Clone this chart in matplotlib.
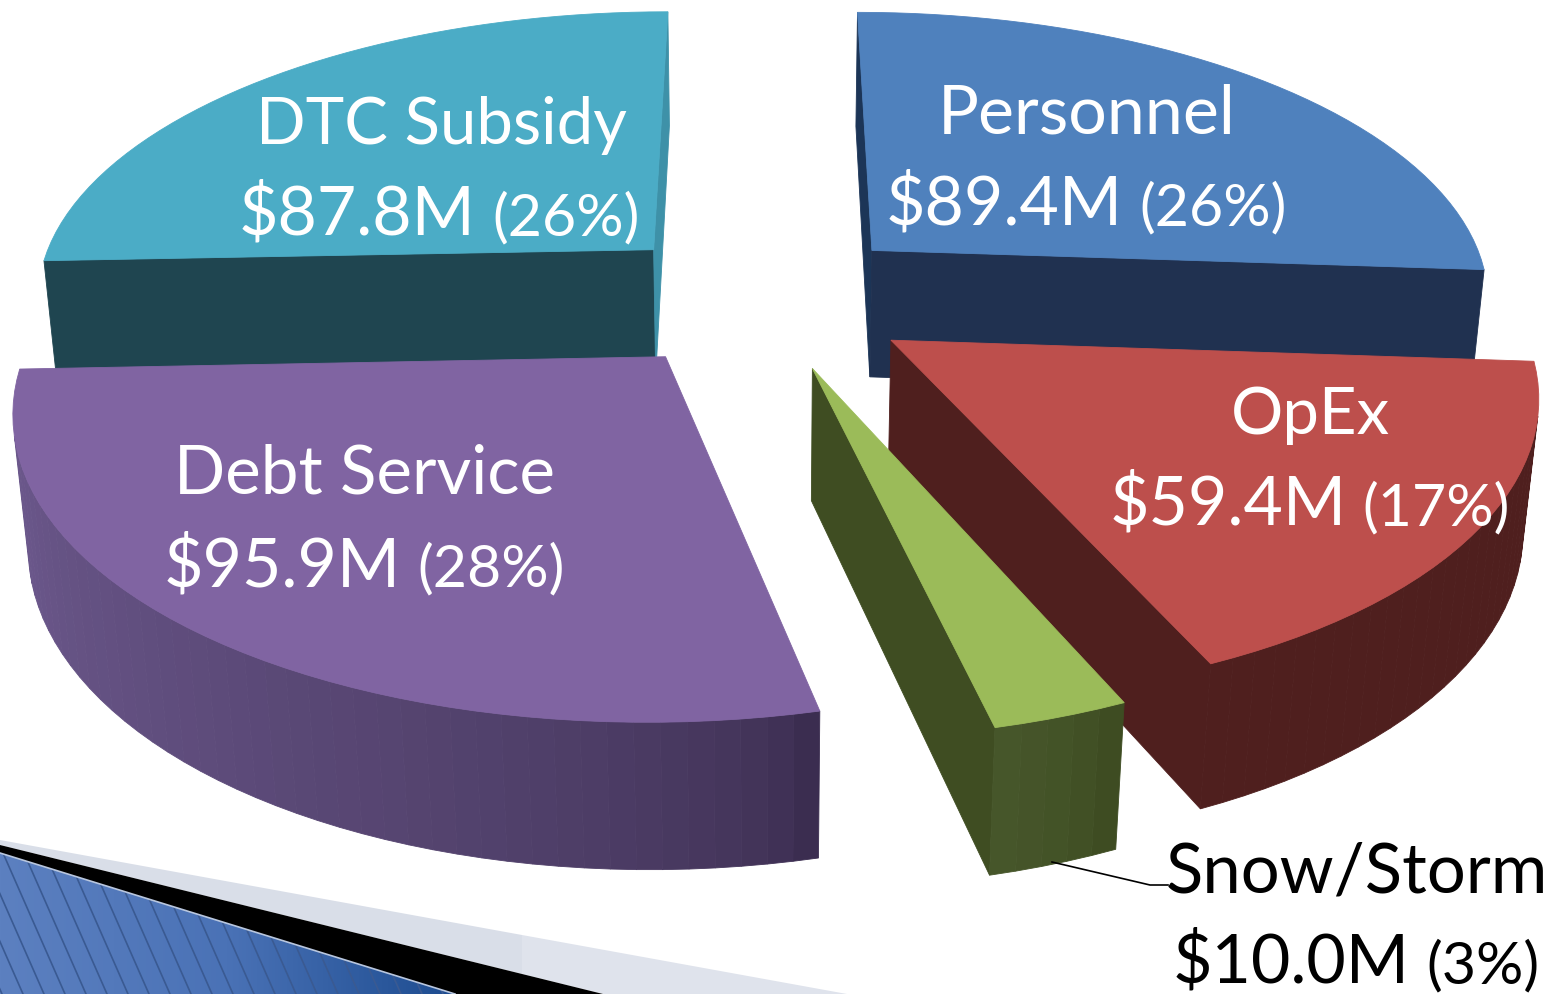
import numpy as np
import matplotlib
matplotlib.use("Agg")
import matplotlib.pyplot as plt
from matplotlib.patches import Polygon
from matplotlib.colors import to_rgb, LinearSegmentedColormap

# ---- data ----
categories = ["Personnel", "OpEx", "Snow/Storm", "Debt Service", "DTC Subsidy"]
values = [89.4, 59.4, 10.0, 95.9, 87.8]
value_labels = ["$89.4M", "$59.4M", "$10.0M", "$95.9M", "$87.8M"]
pct_labels = ["(26%)", "(17%)", "(3%)", "(28%)", "(26%)"]

# ---- style ----
top_colors = ["#4F81BD", "#BD4F4C", "#9BBB59", "#8064A2", "#4BACC6"]
start_wall_colors = ["#1C3557", "#4F1F1E", "#3F4D22", "#3B2D50", "#1F4550"]
end_wall_colors = ["#203150", "#4F1F1E", "#3F4D22", "#3B2D50", "#3E91A8"]
outer_from = ["#203150", "#4F1F1E", "#3E4C22", "#3B2D50", "#1F4550"]
outer_to = ["#203150", "#4F1F1E", "#46562A", "#6F5B90", "#1F4550"]
draw_order = [4, 0, 1, 2, 3]
label_pos = {  # name x, name y, value x, value y, pct x
    0: (938, 134, 886, 225, 1139),
    1: (1231, 434, 1110, 525, 1362),
    2: (1166, 892, 1173, 983, 1426),
    3: (174, 494, 164, 586, 417),
    4: (256, 144, 239, 235, 492),
}
label_colors = ["white", "white", "black", "white", "white"]
name_sizes = [49, 47, 49.5, 48.5, 47]
VALUE_SIZE, PCT_SIZE = 49, 42.5

# perspective camera (pixels)
CX, HY, S, K, D, M, N = 762.0, -1564.0, 622.0, 0.155, 1862.0, 0.0197, 168.0
EXPLODE = 0.248


def project(x, y, z):
    w = 1 + K * y + M * z
    return np.column_stack([CX + S * x / w, HY + (D + N * z) / w])


plt.rcParams["font.family"] = ["Lato", "DejaVu Sans"]
fig = plt.figure(figsize=(15.53, 9.94), dpi=100, facecolor="white")
ax = fig.add_axes([0, 0, 1, 1])
ax.set_xlim(0, 1553)
ax.set_ylim(994, 0)
ax.axis("off")

# ---- slide decoration, lower left ----
blue = [(0, 853), (455, 994), (0, 994)]
grad_x = np.linspace(0, 1, 200)[None, :]
cmap = LinearSegmentedColormap.from_list("b", ["#5C80C0", "#4A72B6", "#1D4C90"])
im = ax.imshow(grad_x, extent=(0, 455, 994, 853), cmap=cmap, aspect="auto", zorder=1)
clip = Polygon(blue, closed=True, transform=ax.transData, fc="none", ec="none")
ax.add_patch(clip)
im.set_clip_path(clip)
for x0 in np.arange(-60, 455, 21):
    ln, = ax.plot([x0, x0 + 62], [853, 994], color="#3A5A92", lw=1.2, zorder=2)
    ln.set_clip_path(clip)
ax.add_patch(Polygon([(0, 840), (522, 935), (522, 974), (0, 845)], fc="#D9DEE8", ec="none", zorder=1))
ax.add_patch(Polygon([(522, 935), (847, 994), (603, 994), (522, 974)], fc="#DFE3EC", ec="none", zorder=1))
ax.add_patch(Polygon([(0, 845), (603, 994), (455, 994), (0, 853)], fc="black", ec="none", zorder=2))
ax.plot([0, 455], [853, 994], color="#B8C6DE", lw=1.2, zorder=3)
ax.set_xlim(0, 1553)
ax.set_ylim(994, 0)


# ---- exploded perspective pie ----
def blend(c0, c1, t):
    a, b = np.array(to_rgb(c0)), np.array(to_rgb(c1))
    return tuple(a + (b - a) * t ** 0.6)


fractions = np.array(values) / np.sum(values)
edges = np.concatenate([[0], np.cumsum(fractions)]) * 2 * np.pi
zo = 5


def signed_area(p):
    x, y = p[:, 0], p[:, 1]
    return 0.5 * np.sum(x * np.roll(y, -1) - np.roll(x, -1) * y)


def face(p, color):
    global zo
    ax.add_patch(Polygon(p, closed=True, fc=color, ec=color, lw=0.6, zorder=zo))
    zo += 1


for i in draw_order:
    a0, a1 = edges[i], edges[i + 1]
    mid = (a0 + a1) / 2
    ax0, ay0 = EXPLODE * np.sin(mid), EXPLODE * np.cos(mid)
    nseg = max(5, int(np.degrees(a1 - a0) / 2))
    th = np.linspace(a0, a1, nseg + 1)
    xs, ys = ax0 + np.sin(th), ay0 + np.cos(th)
    # radial walls (drawn only when they face the camera)
    for ang, sgn, col in ((a0, -1, start_wall_colors[i]), (a1, 1, end_wall_colors[i])):
        ex, ey = ax0 + np.sin(ang), ay0 + np.cos(ang)
        q = np.vstack([project(ax0, ay0, 0), project(ex, ey, 0),
                       project(ex, ey, 1), project(ax0, ay0, 1)])
        if sgn * signed_area(q) > 0:
            face(q, col)
    # outer wall
    for j in range(nseg):
        q = np.vstack([project(xs[j], ys[j], 0), project(xs[j + 1], ys[j + 1], 0),
                       project(xs[j + 1], ys[j + 1], 1), project(xs[j], ys[j], 1)])
        if signed_area(q) < 0:
            face(q, blend(outer_from[i], outer_to[i], j / (nseg - 1)))
    # top
    top = np.vstack([project(ax0, ay0, 0), project(xs, ys, np.zeros_like(xs))])
    face(top, top_colors[i])

# ---- leader line ----
ax.plot([1052, 1150, 1168], [862, 885, 885], color="black", lw=1.2, zorder=zo)

# ---- labels ----
for i, name in enumerate(categories):
    nx, ny, vx, vy, px = label_pos[i]
    c = label_colors[i]
    ax.text(nx, ny, name, color=c, fontsize=name_sizes[i], ha="left", va="baseline", zorder=zo + 1)
    ax.text(vx, vy, value_labels[i], color=c, fontsize=VALUE_SIZE, ha="left", va="baseline", zorder=zo + 1)
    ax.text(px, vy, pct_labels[i], color=c, fontsize=PCT_SIZE, ha="left", va="baseline", zorder=zo + 1)

fig.savefig("out.png", dpi=100, facecolor="white")
